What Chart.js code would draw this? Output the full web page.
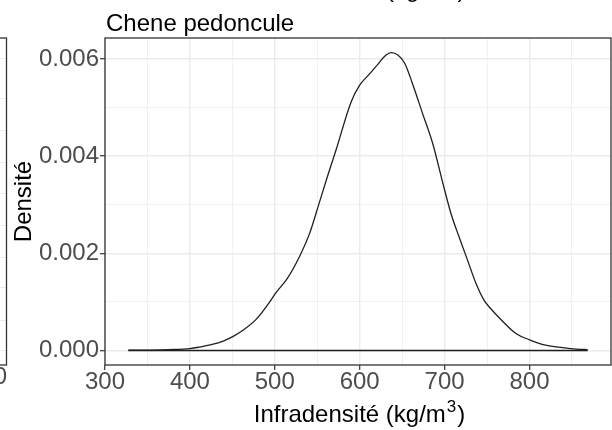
<!DOCTYPE html>
<html lang="fr">
<head>
    <meta charset="UTF-8">
    <title>Chene pedoncule - densité</title>
    <script src="https://cdn.jsdelivr.net/npm/chart.js"></script>
    <style>
        body {
            margin: 0;
            background-color: white;
        }
        #wrap {
            width: 612px;
            height: 430px;
        }
    </style>
</head>
<body>
    <div id="wrap">
        <canvas id="densityChart" width="612" height="430"></canvas>
    </div>

    <script>
        // Courbe de densité
        const densityX = [327.5, 350, 375, 400, 411, 425, 440, 451, 462, 478, 494, 501, 515, 529, 541, 551,
                          562, 572, 590, 600, 610, 619, 631, 637, 645, 653, 662, 674, 686, 698, 707.5,
                          717, 727, 737, 747, 755, 764, 784, 800, 819, 839, 855, 868.5];
        const densityY = [0.00001, 0.00001, 0.00002, 0.00004, 0.00007, 0.00012, 0.00020, 0.00029, 0.00041,
                          0.00064, 0.00100, 0.00118, 0.00149, 0.00193, 0.00241, 0.00296, 0.00358, 0.00412,
                          0.00512, 0.00546, 0.00566, 0.00584, 0.00608, 0.00613, 0.00608, 0.00591,
                          0.00550, 0.00488, 0.00426, 0.00344, 0.00282, 0.00234, 0.00186, 0.00138, 0.00102,
                          0.00085, 0.00068, 0.00035, 0.00022, 0.00011, 0.00006, 0.00003, 0.00002];

        const xTicks = [300, 350, 400, 450, 500, 550, 600, 650, 700, 750, 800, 850];
        const yTicks = [0, 0.001, 0.002, 0.003, 0.004, 0.005, 0.006];

        const titleText = 'Chene pedoncule';
        const xTitle = 'Infradensité (kg/m';
        const yTitle = 'Densité';

        const FONT = "'Liberation Sans', Arial, sans-serif";
        Chart.defaults.font.family = FONT;

        const isMajorX = v => v % 100 === 0;
        const isMajorY = v => Math.round(v * 1000) % 2 === 0;

        // Titre, titres d'axes, cadre du panneau et bout du panneau voisin
        const decorPlugin = {
            id: 'decorPlugin',
            afterDraw: (chart) => {
                const ctx = chart.ctx;
                const a = chart.chartArea;
                ctx.save();

                // panneau voisin coupé à gauche
                ctx.strokeStyle = '#EBEBEB';
                ctx.lineWidth = 1;
                [58, 98, 130, 162, 193, 225, 257, 287, 320, 350].forEach(y => {
                    ctx.beginPath();
                    ctx.moveTo(0, y + 0.5);
                    ctx.lineTo(6, y + 0.5);
                    ctx.stroke();
                });
                ctx.strokeStyle = '#333333';
                ctx.lineWidth = 1.3;
                ctx.strokeRect(-20, a.top, 26.5, a.bottom - a.top);
                ctx.fillStyle = '#4D4D4D';
                ctx.font = '24px ' + FONT;
                ctx.textAlign = 'right';
                ctx.textBaseline = 'top';
                ctx.fillText('0', 7, 365);

                // cadre
                ctx.strokeStyle = '#333333';
                ctx.lineWidth = 1.3;
                ctx.strokeRect(a.left, a.top, a.right - a.left, a.bottom - a.top);

                // titre coupé du haut de la figure
                ctx.fillStyle = '#000000';
                ctx.textAlign = 'left';
                ctx.textBaseline = 'alphabetic';
                ctx.font = '24px ' + FONT;
                let w = ctx.measureText(xTitle).width;
                ctx.fillText(xTitle, 254, -3);
                ctx.font = '17px ' + FONT;
                ctx.fillText('3', 254 + w + 1, -12);
                let w3 = ctx.measureText('3').width;
                ctx.font = '24px ' + FONT;
                ctx.fillText(')', 254 + w + w3 + 2, -3);

                // titre
                ctx.fillText(titleText, 106, 30.5);

                // titre axe x avec exposant
                ctx.font = '24px ' + FONT;
                w = ctx.measureText(xTitle).width;
                ctx.font = '17px ' + FONT;
                w3 = ctx.measureText('3').width;
                ctx.font = '24px ' + FONT;
                const wp = ctx.measureText(')').width;
                const total = w + w3 + wp + 3;
                let x0 = (a.left + a.right) / 2 + 2 - total / 2;
                ctx.fillText(xTitle, x0, 422);
                ctx.font = '17px ' + FONT;
                ctx.fillText('3', x0 + w + 1, 412);
                ctx.font = '24px ' + FONT;
                ctx.fillText(')', x0 + w + w3 + 2, 422);

                // titre axe y
                ctx.translate(31, (a.top + a.bottom) / 2);
                ctx.rotate(-Math.PI / 2);
                ctx.textAlign = 'center';
                ctx.fillText(yTitle, 0, 0);

                ctx.restore();
            }
        };

        const curve = densityX.map((x, i) => ({ x: x, y: densityY[i] }));
        const baseline = [
            { x: densityX[0], y: 0 },
            { x: densityX[densityX.length - 1], y: 0 }
        ];

        const config = {
            type: 'line',
            data: {
                datasets: [
                    {
                        data: curve,
                        borderColor: '#1f1f1f',
                        borderWidth: 1.3,
                        pointRadius: 0,
                        fill: false,
                        cubicInterpolationMode: 'monotone'
                    },
                    {
                        data: baseline,
                        borderColor: '#1f1f1f',
                        borderWidth: 1.3,
                        pointRadius: 0,
                        fill: false
                    }
                ]
            },
            options: {
                responsive: false,
                animation: false,
                events: [],
                layout: {
                    padding: { left: 0, right: 1, top: 38, bottom: 0 }
                },
                plugins: {
                    legend: { display: false },
                    title: { display: false },
                    tooltip: { enabled: false }
                },
                scales: {
                    x: {
                        type: 'linear',
                        min: 300,
                        max: 896,
                        afterBuildTicks: s => { s.ticks = xTicks.map(v => ({ value: v })); },
                        afterFit: s => { s.height = 65; },
                        border: { display: false },
                        grid: {
                            color: c => '#EBEBEB',
                            lineWidth: c => (isMajorX(c.tick.value) ? 1.4 : 0.7),
                            tickColor: c => (isMajorX(c.tick.value) ? '#333333' : 'rgba(0,0,0,0)'),
                            tickLength: 5,
                            tickWidth: 1.2
                        },
                        ticks: {
                            autoSkip: false,
                            maxRotation: 0,
                            padding: -2,
                            color: '#4D4D4D',
                            font: { size: 24 },
                            callback: v => (isMajorX(v) ? String(v) : '')
                        }
                    },
                    y: {
                        type: 'linear',
                        min: -0.000298,
                        max: 0.00643,
                        afterBuildTicks: s => { s.ticks = yTicks.map(v => ({ value: v })); },
                        afterFit: s => { s.width = 105; },
                        border: { display: false },
                        grid: {
                            color: c => '#EBEBEB',
                            lineWidth: c => (isMajorY(c.tick.value) ? 1.4 : 0.7),
                            tickColor: c => (isMajorY(c.tick.value) ? '#333333' : 'rgba(0,0,0,0)'),
                            tickLength: 5,
                            tickWidth: 1.2
                        },
                        ticks: {
                            autoSkip: false,
                            padding: 1,
                            color: '#4D4D4D',
                            font: { size: 24 },
                            callback: v => (isMajorY(v) ? v.toFixed(3) : '')
                        }
                    }
                }
            },
            plugins: [decorPlugin]
        };

        new Chart(document.getElementById('densityChart'), config);
    </script>
</body>
</html>
